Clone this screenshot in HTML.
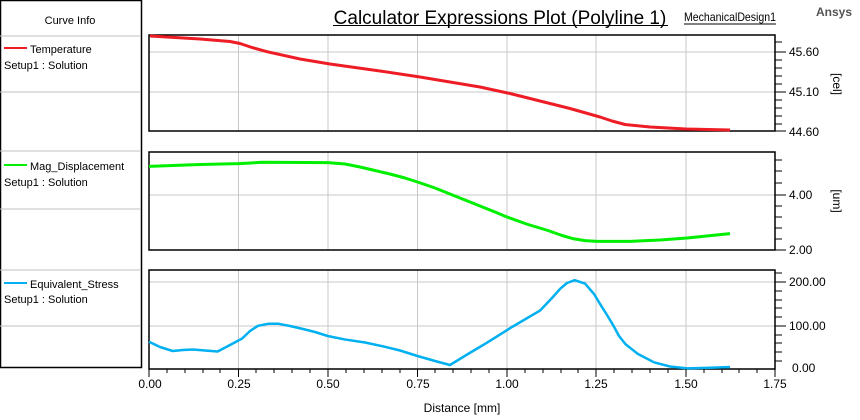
<!DOCTYPE html>
<html><head><style>
body{margin:0;background:#fff;}
svg{display:block;font-family:"Liberation Sans",Arial,sans-serif;}
</style></head><body>
<svg width="860" height="420" viewBox="0 0 860 420" xmlns="http://www.w3.org/2000/svg">
<rect x="0.5" y="0.5" width="141" height="367" fill="none" stroke="#000" stroke-width="1.5"/>
<g stroke="#c0c0c0" stroke-width="1">
<line x1="0" y1="36" x2="141" y2="36"/>
<line x1="0" y1="92" x2="141" y2="92"/>
<line x1="0" y1="151" x2="141" y2="151"/>
<line x1="0" y1="209" x2="141" y2="209"/>
<line x1="0" y1="270" x2="141" y2="270"/>
<line x1="0" y1="326" x2="141" y2="326"/>
</g>
<g font-size="11" fill="#000">
<text x="70" y="24" text-anchor="middle">Curve Info</text>
<line x1="4" y1="48" x2="27" y2="48" stroke="#ee1c25" stroke-width="2"/>
<text x="30" y="53">Temperature</text>
<text x="4" y="69">Setup1 : Solution</text>
<line x1="4" y1="165" x2="27" y2="165" stroke="#00ee00" stroke-width="2"/>
<text x="30" y="170">Mag_Displacement</text>
<text x="4" y="186">Setup1 : Solution</text>
<line x1="4" y1="283" x2="27" y2="283" stroke="#00b0f0" stroke-width="2"/>
<text x="30" y="288">Equivalent_Stress</text>
<text x="4" y="303">Setup1 : Solution</text>
</g>
<text x="500" y="24" font-size="19" text-anchor="middle">Calculator Expressions Plot (Polyline 1)</text>
<line x1="333" y1="25.5" x2="668" y2="25.5" stroke="#000" stroke-width="1"/>
<text x="684" y="21" font-size="12" textLength="92" lengthAdjust="spacingAndGlyphs">MechanicalDesign1</text>
<line x1="684" y1="24" x2="776" y2="24" stroke="#000" stroke-width="1"/>
<text x="816" y="16" font-size="12" font-weight="bold" fill="#555">Ansys</text>
<g stroke="#c8c8c8" stroke-width="1">
<line x1="238.5" y1="35" x2="238.5" y2="131"/><line x1="328" y1="35" x2="328" y2="131"/><line x1="417.5" y1="35" x2="417.5" y2="131"/><line x1="507" y1="35" x2="507" y2="131"/><line x1="596" y1="35" x2="596" y2="131"/><line x1="686" y1="35" x2="686" y2="131"/>
<line x1="149" y1="52" x2="775" y2="52"/><line x1="149" y1="92" x2="775" y2="92"/>
<line x1="238.5" y1="152" x2="238.5" y2="250"/><line x1="328" y1="152" x2="328" y2="250"/><line x1="417.5" y1="152" x2="417.5" y2="250"/><line x1="507" y1="152" x2="507" y2="250"/><line x1="596" y1="152" x2="596" y2="250"/><line x1="686" y1="152" x2="686" y2="250"/>
<line x1="149" y1="195" x2="775" y2="195"/>
<line x1="238.5" y1="270" x2="238.5" y2="369"/><line x1="328" y1="270" x2="328" y2="369"/><line x1="417.5" y1="270" x2="417.5" y2="369"/><line x1="507" y1="270" x2="507" y2="369"/><line x1="596" y1="270" x2="596" y2="369"/><line x1="686" y1="270" x2="686" y2="369"/>
<line x1="149" y1="282" x2="775" y2="282"/><line x1="149" y1="326" x2="775" y2="326"/>
</g>
<g fill="none" stroke="#000" stroke-width="1.5">
<rect x="149" y="35" width="626" height="96"/>
<rect x="149" y="152" width="626" height="98"/>
<rect x="149" y="270" width="626" height="99"/>
</g>
<polyline fill="none" stroke="#ee1c25" stroke-width="3" stroke-linejoin="round" points="150,36 200,39 230,41.5 240,43.5 252,47.5 267,51.7 300,59 330,64 380,71 420,77 480,87 510,93.5 540,101 570,108.5 600,117 612,121 625,124.5 650,127 686,129 730,130"/>
<polyline fill="none" stroke="#00ee00" stroke-width="3" stroke-linejoin="round" points="149,166.4 200,164.5 238.8,163.6 262,162.3 328,162.6 345,164 360,167 375,170.5 390,174 405,178 417.5,182 435,188 450,194 465,200 480,206 495,212 507,217 528,224.5 548,230.5 562,235.5 572.7,238.6 585,240.6 597,241.4 630,241.4 660,240 687,238 730,233.6"/>
<polyline fill="none" stroke="#00b0f0" stroke-width="2.5" stroke-linejoin="round" points="149,341.7 160,347 172.7,351 183,350 193,349.5 205,350.5 217.6,351.5 230,345 242,338.6 250,331 258,325.8 268,323.8 278.8,323.8 290,326 303,329 315,332 327.8,336 344,339.3 365,342.5 385,346.8 400,350.5 417.5,356 435,361 450,365 468,354 487,342.7 512,327 540,310.6 552,298 560.4,288.6 567,283 574.7,280.2 585,283.6 594,294 601,305.5 607,315 613.5,325.8 619,336 625.7,344.4 638,354 654,362.3 670,366.5 687,368.4 710,367.8 730,367"/>
<g stroke="#000" stroke-width="1">
<line x1="775" y1="42" x2="782" y2="42"/><line x1="775" y1="52" x2="786" y2="52"/><line x1="775" y1="60" x2="782" y2="60"/><line x1="775" y1="68" x2="782" y2="68"/><line x1="775" y1="76" x2="782" y2="76"/><line x1="775" y1="84" x2="782" y2="84"/><line x1="775" y1="92" x2="786" y2="92"/><line x1="775" y1="100" x2="782" y2="100"/><line x1="775" y1="108" x2="782" y2="108"/><line x1="775" y1="116" x2="782" y2="116"/><line x1="775" y1="124" x2="782" y2="124"/><line x1="775" y1="131" x2="786" y2="131"/>
<line x1="775" y1="160" x2="782" y2="160"/><line x1="775" y1="171" x2="782" y2="171"/><line x1="775" y1="183" x2="782" y2="183"/><line x1="775" y1="195" x2="786" y2="195"/><line x1="775" y1="206" x2="782" y2="206"/><line x1="775" y1="217" x2="782" y2="217"/><line x1="775" y1="228" x2="782" y2="228"/><line x1="775" y1="239" x2="782" y2="239"/><line x1="775" y1="250" x2="786" y2="250"/>
<line x1="775" y1="273" x2="782" y2="273"/><line x1="775" y1="282" x2="786" y2="282"/><line x1="775" y1="291" x2="782" y2="291"/><line x1="775" y1="300" x2="782" y2="300"/><line x1="775" y1="308" x2="782" y2="308"/><line x1="775" y1="317" x2="782" y2="317"/><line x1="775" y1="326" x2="786" y2="326"/><line x1="775" y1="335" x2="782" y2="335"/><line x1="775" y1="343" x2="782" y2="343"/><line x1="775" y1="352" x2="782" y2="352"/><line x1="775" y1="361" x2="782" y2="361"/>
</g>
<g font-size="12" fill="#000">
<text x="789" y="56">45.60</text><text x="789" y="96">45.10</text><text x="789" y="136">44.60</text>
<text x="789" y="199">4.00</text><text x="789" y="254">2.00</text>
<text x="789" y="286">200.00</text><text x="789" y="330">100.00</text><text x="792" y="372">0.00</text>
<text transform="translate(833,84) rotate(90)" text-anchor="middle">[cel]</text>
<text transform="translate(833,201) rotate(90)" text-anchor="middle">[um]</text>
</g>
<g stroke="#000" stroke-width="1">
<path d="M149,369v8 M167,369v4 M185,369v4 M203,369v4 M220,369v4 M238.5,369v8 M256,369v4 M274,369v4 M292,369v4 M310,369v4 M328,369v8 M346,369v4 M364,369v4 M382,369v4 M400,369v4 M417.5,369v8 M435,369v4 M453,369v4 M471,369v4 M489,369v4 M507,369v8 M525,369v4 M543,369v4 M561,369v4 M578,369v4 M596,369v8 M614,369v4 M632,369v4 M650,369v4 M668,369v4 M686,369v8 M704,369v4 M722,369v4 M739,369v4 M757,369v4 M775,369v8"/>
</g>
<g font-size="12" fill="#000" text-anchor="middle">
<text x="150" y="388">0.00</text><text x="239" y="388">0.25</text><text x="328" y="388">0.50</text><text x="418" y="388">0.75</text><text x="507" y="388">1.00</text><text x="596" y="388">1.25</text><text x="686" y="388">1.50</text><text x="775" y="388">1.75</text>
<text x="462" y="412">Distance [mm]</text>
</g>
</svg>
</body></html>
